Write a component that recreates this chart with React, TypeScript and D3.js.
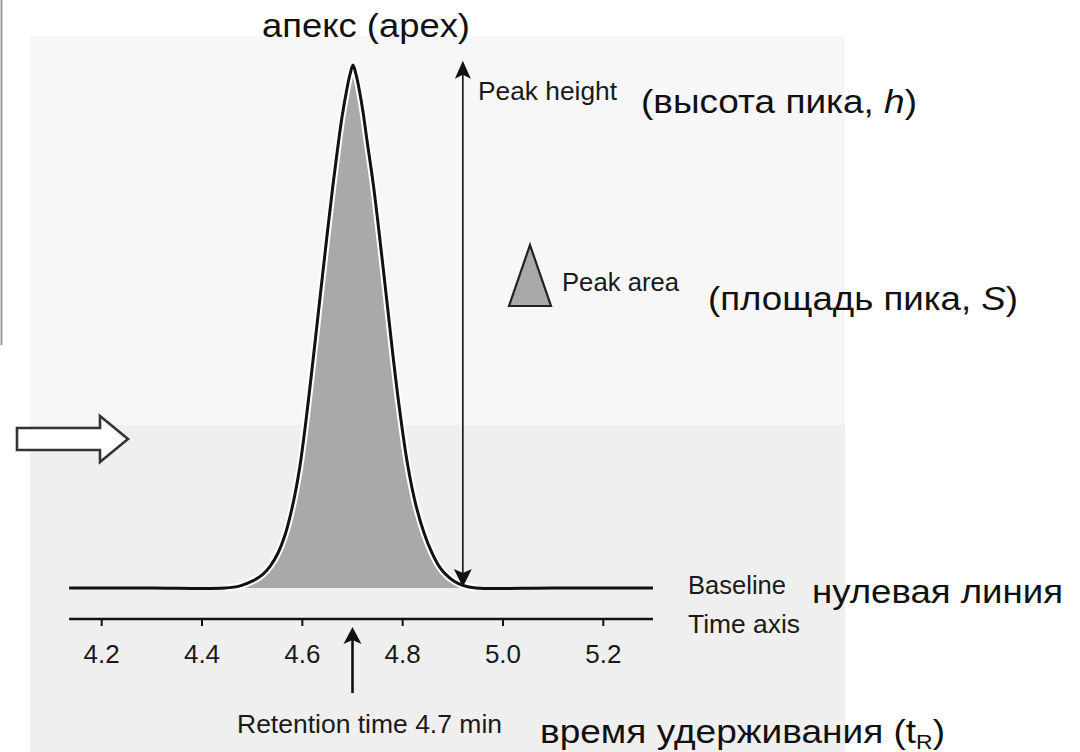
import React from "react";
import * as d3 from "d3";

// ---- data ----
const TICK_VALUES = [4.2, 4.4, 4.6, 4.8, 5.0, 5.2];
const TICK_LABELS = ["4.2", "4.4", "4.6", "4.8", "5.0", "5.2"];

// chromatogram trace: retention time (min) and relative detector signal
const TRACE_TIME = [
  4.135, 4.3, 4.446, 4.476, 4.502, 4.52, 4.536, 4.551, 4.565, 4.58, 4.595,
  4.611, 4.623, 4.635, 4.649, 4.661, 4.671, 4.679, 4.689, 4.695, 4.701,
  4.707, 4.713, 4.721, 4.729, 4.741, 4.754, 4.768, 4.78, 4.792, 4.81,
  4.826, 4.843, 4.858, 4.873, 4.887, 4.901, 4.92, 4.946, 5.1, 5.299,
];
const TRACE_SIGNAL = [
  0, 0, 0, 0.004, 0.014, 0.025, 0.042, 0.066, 0.1, 0.155, 0.232,
  0.35, 0.45, 0.553, 0.672, 0.77, 0.845, 0.9, 0.955, 0.982, 1.0,
  0.982, 0.955, 0.91, 0.855, 0.775, 0.672, 0.553, 0.45, 0.355, 0.235,
  0.16, 0.104, 0.068, 0.041, 0.025, 0.014, 0.005, 0, 0, 0,
];
const AXIS_EXTENT = [4.135, 5.299];
const RETENTION_TIME = 4.7;
const HEIGHT_MARKER_TIME = 4.92;
const HEIGHT_MARKER_TOP = 1.008;

const FONT = "'Liberation Sans', Arial, Helvetica, sans-serif";

export default function App() {
  const W = 1080;
  const H = 752;
  const x = d3.scaleLinear().domain([4.2, 5.2]).range([101.7, 603.3]);
  const y = d3.scaleLinear().domain([0, 1]).range([588, 65]);
  const axisY = 619;

  const pts = TRACE_TIME.map((t, i) => [t, TRACE_SIGNAL[i]] as [number, number]);
  const curve = d3.curveCatmullRom.alpha(0.5);
  const line = d3
    .line<[number, number]>()
    .x((d) => x(d[0]))
    .y((d) => Math.min(y(d[1]), y(0)))
    .curve(curve);
  const area = d3
    .area<[number, number]>()
    .x((d) => x(d[0]))
    .y0(y(0))
    .y1((d) => y(d[1]))
    .curve(curve);
  const peakPts = pts.filter((d) => d[0] >= 4.44 && d[0] <= 4.95);

  const hx = x(HEIGHT_MARKER_TIME);
  const hTop = y(HEIGHT_MARKER_TOP);
  const hBot = y(0);
  const rx = x(RETENTION_TIME);

  const arrowHead = (tipX: number, tipY: number, dir: 1 | -1, hw: number, len: number) => {
    // dir = -1 : pointing up, dir = 1 : pointing down
    const b = tipY - dir * len;
    const notch = tipY - dir * (len - 4);
    return `M${tipX},${tipY} L${tipX - hw},${b} L${tipX},${notch} L${tipX + hw},${b} Z`;
  };

  return (
    <svg
      width={W}
      height={H}
      viewBox={`0 0 ${W} ${H}`}
      style={{ position: "absolute", left: 0, top: 0, display: "block", background: "#ffffff" }}
    >
      {/* scanned page area (upper part lighter, lower part greyed by show-through) */}
      <rect x={30} y={36} width={815} height={H - 36} fill="#f7f7f7" />
      <rect x={30} y={425} width={815} height={H - 425} fill="#efefef" />
      {/* thin grey edge at left */}
      <line x1={1.5} y1={0} x2={1.5} y2={345} stroke="#9a9a9a" strokeWidth={2} />

      {/* hollow arrow */}
      <path
        d="M17,428 L100,428 L100,416 L128,439 L100,462 L100,450 L17,450 Z"
        fill="#ffffff"
        stroke="#333333"
        strokeWidth={2.6}
        strokeLinejoin="miter"
      />

      {/* peak area fill */}
      <path d={area(peakPts) || ""} fill="#a9a9a9" />
      {/* white rim and outline */}
      <path d={line(peakPts) || ""} fill="none" stroke="#ffffff" strokeWidth={7} />
      <path d={line(pts) || ""} fill="none" stroke="#111111" strokeWidth={3} strokeLinejoin="round" />

      {/* time axis */}
      <line x1={x(AXIS_EXTENT[0])} x2={x(AXIS_EXTENT[1])} y1={axisY} y2={axisY} stroke="#111111" strokeWidth={2.6} />
      {TICK_VALUES.map((t, i) => (
        <g key={t}>
          <line x1={x(t)} x2={x(t)} y1={axisY} y2={axisY + 7} stroke="#111111" strokeWidth={2} />
          <text x={x(t)} y={663} textAnchor="middle" fontFamily={FONT} fontSize={26} fill="#1a1a1a">
            {TICK_LABELS[i]}
          </text>
        </g>
      ))}

      {/* peak height double arrow */}
      <line x1={hx} x2={hx} y1={hTop + 10} y2={hBot - 10} stroke="#111111" strokeWidth={1.6} />
      <path d={arrowHead(hx, hTop, -1, 8, 18)} fill="#111111" />
      <path d={arrowHead(hx, hBot - 1, 1, 9, 18)} fill="#111111" />

      {/* retention time arrow */}
      <line x1={rx} x2={rx} y1={640} y2={693} stroke="#111111" strokeWidth={2.6} />
      <path d={arrowHead(rx, 627, -1, 9, 17)} fill="#111111" />

      {/* peak area legend triangle */}
      <path d="M530,245 L551,306 L509,306 Z" fill="#a9a9a9" stroke="#222222" strokeWidth={2.2} strokeLinejoin="miter" />

      {/* English labels */}
      <g fontFamily={FONT} fill="#1a1a1a" fontSize={25}>
        <text x={478} y={100} textLength={139} lengthAdjust="spacingAndGlyphs">Peak height</text>
        <text x={562} y={291} textLength={117} lengthAdjust="spacingAndGlyphs">Peak area</text>
        <text x={688} y={594} textLength={98} lengthAdjust="spacingAndGlyphs">Baseline</text>
        <text x={688} y={633} textLength={112} lengthAdjust="spacingAndGlyphs">Time axis</text>
        <text x={237} y={733} textLength={265} lengthAdjust="spacingAndGlyphs">Retention time 4.7 min</text>
      </g>

      {/* Russian labels */}
      <g fontFamily={FONT} fill="#111111" fontSize={34}>
        <text x={262} y={37} textLength={208} lengthAdjust="spacingAndGlyphs">апекс (apex)</text>
        <text x={641} y={113} textLength={276} lengthAdjust="spacingAndGlyphs">
          (высота пика, <tspan fontStyle="italic">h</tspan>)
        </text>
        <text x={708} y={310} textLength={310} lengthAdjust="spacingAndGlyphs">
          (площадь пика, <tspan fontStyle="italic">S</tspan>)
        </text>
        <text x={812} y={603} textLength={251} lengthAdjust="spacingAndGlyphs">нулевая линия</text>
        <text x={540} y={743} textLength={405} lengthAdjust="spacingAndGlyphs">
          время удерживания (t<tspan fontSize={21} dy={6}>R</tspan><tspan dy={-6}>)</tspan>
        </text>
      </g>
    </svg>
  );
}
